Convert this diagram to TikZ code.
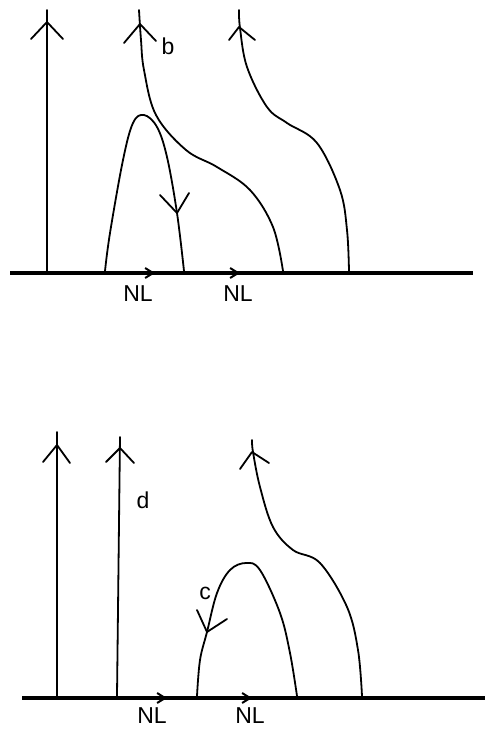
\documentclass[tikz,border=0pt]{standalone}
\usepackage{fontspec}
\setmainfont{Liberation Sans}
\usetikzlibrary{arrows.meta}
\begin{document}
\begin{tikzpicture}[x=1pt,y=-1pt,
  crv/.style={line width=1.8pt,line cap=round,line join=round},
  base/.style={line width=3.5pt},
  nl/.style={line width=2pt,-{Straight Barb[length=8pt,width=10pt]}},
  lbl/.style={font=\fontsize{23}{26}\selectfont,inner sep=0pt}]
\useasboundingbox (0,0) rectangle (485,729);
% ---------- top panel ----------
\draw[base] (10,273) -- (473,273);
\draw[crv] (47,271) -- (47,10);
\draw[crv] (31,39) -- (47,22) -- (63,39);
\draw[crv] plot[smooth,tension=0.6] coordinates {(139,10) (141,40) (144,70) (156,115) (186,150) (217,167) (250,190) (273,227) (283,271)};
\draw[crv] (124,43) -- (140,24) -- (156,41);
\node[lbl] (b) at (168,46) {b};
\draw[crv] plot[smooth,tension=0.6] coordinates {(105,271) (110,233) (123,160) (133,123) (144,115) (157,127) (167,157) (177,213) (184,271)};
\draw[crv] (160,195) -- (177,213) -- (189,193);
\draw[crv] plot[smooth,tension=0.6] coordinates {(239,10) (240,28) (247,67) (267,107) (287,123) (317,143) (340,190) (347,230) (349,271)};
\draw[crv] (229,40) -- (239,27) -- (255,40);
\draw[nl] (136,273) -- (155,273);
\draw[nl] (221,273) -- (240,273);
\node[lbl] (nl1) at (138,294) {NL};
\node[lbl] (nl2) at (238,294) {NL};
% ---------- bottom panel ----------
\draw[base] (22,698) -- (485,698);
\draw[crv] (57,696) -- (57,432);
\draw[crv] (43,462) -- (57,445) -- (70,463);
\draw[crv] (117,696) -- (120,437);
\draw[crv] (106,462) -- (120,448) -- (134,463);
\node[lbl] (d) at (143,500) {d};
\draw[crv] plot[smooth,tension=0.6] coordinates {(197,696) (200,660) (207,632) (217,593) (230,570) (246,563) (260,570) (280,613) (290,653) (297,696)};
\draw[crv] (197,610) -- (207,632) -- (227,619);
\node[lbl] (c) at (205,593) {c};
\draw[crv] plot[smooth,tension=0.6] coordinates {(252,440) (253,452) (260,487) (273,527) (293,550) (320,563) (347,607) (358,650) (362,696)};
\draw[crv] (240,469) -- (252,452) -- (269,463);
\draw[nl] (148,698) -- (167,698);
\draw[nl] (233,698) -- (252,698);
\node[lbl] (nl3) at (152,716) {NL};
\node[lbl] (nl4) at (250,716) {NL};
\end{tikzpicture}
\end{document}
